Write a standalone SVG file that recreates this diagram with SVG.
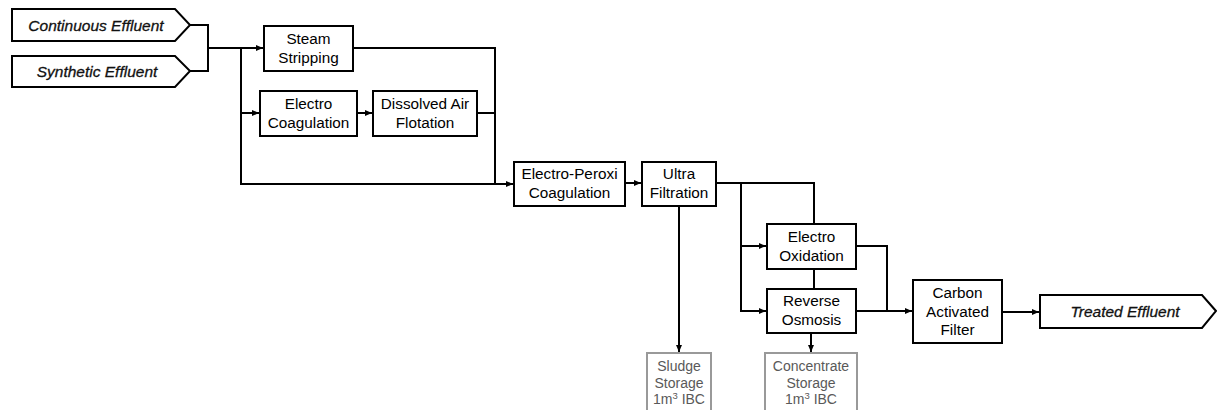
<svg xmlns="http://www.w3.org/2000/svg" width="1217" height="410" viewBox="0 0 1217 410">
<style>
.box{fill:#fff;stroke:#000;stroke-width:2}
.gbox{fill:#fff;stroke:#999;stroke-width:2}
.t{font-family:"Liberation Sans",Arial,sans-serif;font-size:15.3px;fill:#000;text-anchor:middle}
.g{font-family:"Liberation Sans",Arial,sans-serif;font-size:14px;fill:#595959;text-anchor:middle}
.io{font-family:"Liberation Sans",Arial,sans-serif;font-size:15.5px;font-style:italic;fill:#111;stroke:#111;stroke-width:0.3;text-anchor:middle}
.c{fill:none;stroke:#000;stroke-width:2}
</style>
<defs>
<marker id="ah" markerUnits="userSpaceOnUse" markerWidth="8" markerHeight="8" refX="7" refY="4" orient="auto">
<path d="M0,1 L7,4 L0,7 Z" fill="#000"/>
</marker>
</defs>
<g id="connectors">
<path class="c" d="M190,25 H208 V71 H190"/>
<path class="c" d="M208,48 H263" marker-end="url(#ah)"/>
<path class="c" d="M241,48 V184 H513" marker-end="url(#ah)"/>
<path class="c" d="M241,113 H259" marker-end="url(#ah)"/>
<path class="c" d="M357,113 H372" marker-end="url(#ah)"/>
<path class="c" d="M353,48 H495 V184"/>
<path class="c" d="M477,113 H495"/>
<path class="c" d="M625,183 H641" marker-end="url(#ah)"/>
<path class="c" d="M716,183 H814 V224"/>
<path class="c" d="M741,183 V311 H766" marker-end="url(#ah)"/>
<path class="c" d="M741,246 H766" marker-end="url(#ah)"/>
<path class="c" d="M814,269 V289"/>
<path class="c" d="M856,246 H887 V311"/>
<path class="c" d="M856,311 H912" marker-end="url(#ah)"/>
<path class="c" d="M1002,312 H1039" marker-end="url(#ah)"/>
<path class="c" d="M679,206 V352" marker-end="url(#ah)"/>
<path class="c" d="M811,333 V352" marker-end="url(#ah)"/>
</g>
<g id="continuous-effluent">
<path class="box" d="M12,9 H175 L190,25 L175,41 H12 Z"/>
<text class="io" x="96" y="30.5">Continuous Effluent</text>
</g>
<g id="synthetic-effluent">
<path class="box" d="M12,56 H175 L190,71 L175,87 H12 Z"/>
<text class="io" x="97" y="76.5">Synthetic Effluent</text>
</g>
<g id="steam-stripping">
<rect class="box" x="264" y="26" width="89" height="45"/>
<text class="t" x="308.5" y="44">Steam</text>
<text class="t" x="308.5" y="63">Stripping</text>
</g>
<g id="electro-coagulation">
<rect class="box" x="260" y="91" width="97" height="45"/>
<text class="t" x="308.5" y="109">Electro</text>
<text class="t" x="308.5" y="128">Coagulation</text>
</g>
<g id="dissolved-air-flotation">
<rect class="box" x="373" y="91" width="104" height="45"/>
<text class="t" x="425" y="109">Dissolved Air</text>
<text class="t" x="425" y="128">Flotation</text>
</g>
<g id="electro-peroxi-coagulation">
<rect class="box" x="514" y="162" width="111" height="44"/>
<text class="t" x="569.5" y="179">Electro-Peroxi</text>
<text class="t" x="569.5" y="198">Coagulation</text>
</g>
<g id="ultra-filtration">
<rect class="box" x="642" y="162" width="74" height="44"/>
<text class="t" x="679" y="179">Ultra</text>
<text class="t" x="679" y="198">Filtration</text>
</g>
<g id="electro-oxidation">
<rect class="box" x="767" y="224" width="89" height="45"/>
<text class="t" x="811.5" y="242">Electro</text>
<text class="t" x="811.5" y="261">Oxidation</text>
</g>
<g id="reverse-osmosis">
<rect class="box" x="767" y="289" width="89" height="44"/>
<text class="t" x="811.5" y="306">Reverse</text>
<text class="t" x="811.5" y="325">Osmosis</text>
</g>
<g id="carbon-activated-filter">
<rect class="box" x="913" y="280" width="89" height="63"/>
<text class="t" x="957.5" y="298">Carbon</text>
<text class="t" x="957.5" y="317">Activated</text>
<text class="t" x="957.5" y="335">Filter</text>
</g>
<g id="treated-effluent">
<path class="box" d="M1040,295 H1202 L1216,311 L1202,328 H1040 Z"/>
<text class="io" x="1125" y="317">Treated Effluent</text>
</g>
<g id="sludge-storage">
<rect class="gbox" x="647" y="353" width="64" height="70"/>
<text class="g" x="679" y="371">Sludge</text>
<text class="g" x="679" y="387.5">Storage</text>
<text class="g" x="679" y="404">1m<tspan font-size="9.5" dy="-5">3</tspan><tspan dy="5"> IBC</tspan></text>
</g>
<g id="concentrate-storage">
<rect class="gbox" x="765" y="353" width="92" height="70"/>
<text class="g" x="811" y="371">Concentrate</text>
<text class="g" x="811" y="387.5">Storage</text>
<text class="g" x="811" y="404">1m<tspan font-size="9.5" dy="-5">3</tspan><tspan dy="5"> IBC</tspan></text>
</g>
</svg>
